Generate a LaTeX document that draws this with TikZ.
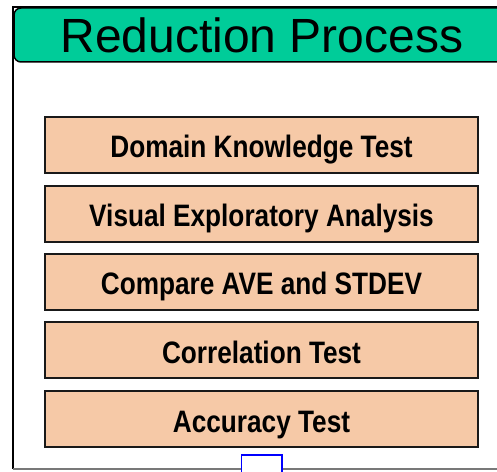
\documentclass[tikz,border=0pt]{standalone}
\usepackage{fontspec}
\setmainfont{Liberation Sans}
\newfontfamily\narrowfont[FakeStretch=0.845]{Liberation Sans}
\definecolor{hdrgreen}{RGB}{0,204,153}
\definecolor{peach}{RGB}{246,201,167}
\definecolor{framegray}{RGB}{120,120,120}
\tikzset{
  stepbox/.style={draw=black!90, line width=2pt, fill=peach, minimum width=433pt, minimum height=56pt, inner sep=0pt,
    text height=27pt, text depth=1pt,
    font=\narrowfont\bfseries\fontsize{31}{36}\selectfont, text=black},
  header/.style={draw=black, line width=1.5pt, fill=hdrgreen, rounded corners=7pt, inner sep=0pt}
}
\begin{document}
\begin{tikzpicture}[x=1pt,y=1pt]
\useasboundingbox (0,0) rectangle (497,471);
\clip (0,0) rectangle (497,471);
% outer frame
\draw[black, line width=1.5pt] (13,2) -- (13,464) -- (500,464);
\draw[framegray, line width=1.5pt] (13,2) -- (500,2);
% header
\draw[header] (14,409) rectangle (510,463);
\node[inner sep=0pt, font=\fontsize{48}{52}\selectfont] (title) at (262,436) {Reduction Process};
% steps
\node[stepbox] (s1) at (261.5,326) {Domain Knowledge Test};
\node[stepbox] (s2) at (261.5,257) {Visual Exploratory Analysis};
\node[stepbox] (s3) at (261.5,189) {Compare AVE and STDEV};
\node[stepbox] (s4) at (261.5,121) {Correlation Test};
\node[stepbox] (s5) at (261.5,52) {Accuracy Test};
% blue square at bottom
\draw[blue, line width=1.5pt, fill=white] (241.5,-5) rectangle (282,16);
\end{tikzpicture}
\end{document}
